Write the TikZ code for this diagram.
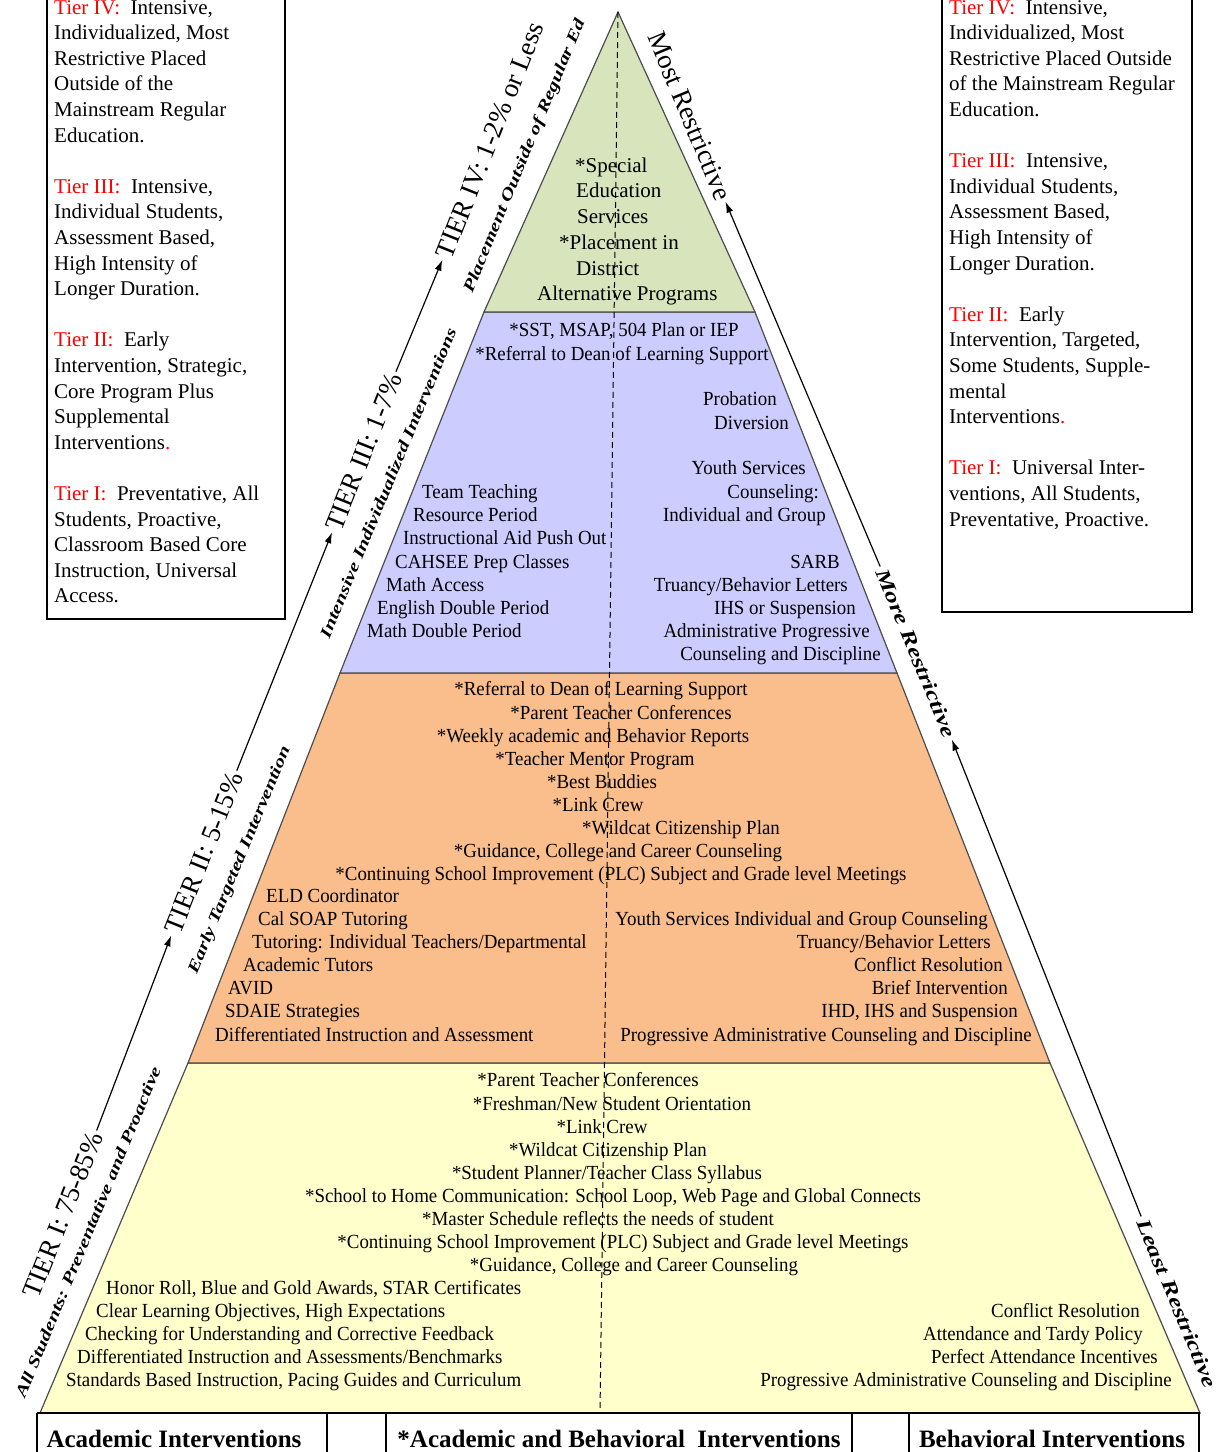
\documentclass[tikz,border=0pt]{standalone}
\usepackage{fontspec}
\setmainfont{Liberation Serif}
\newfontfamily\condfont[FakeStretch=0.945]{Liberation Serif}
\newfontfamily\widefont[FakeStretch=1.33]{Liberation Serif}
\usetikzlibrary{arrows.meta}
\definecolor{tiergreen}{RGB}{215,228,188}
\definecolor{tierpurple}{RGB}{204,204,255}
\definecolor{tierorange}{RGB}{250,190,140}
\definecolor{tieryellow}{RGB}{255,255,204}
\newcommand{\tierred}[1]{\textcolor{red}{#1}}

\begin{document}
\begin{tikzpicture}[x=1pt, y=-1pt,
  band/.style={draw=black!70, line width=1.2pt},
  pyr/.style={font=\condfont\fontsize{20}{23}\selectfont, inner sep=0pt},
  plain/.style={font=\fontsize{21}{25.6}\selectfont, inner sep=0pt},
  boxtxt/.style={plain, align=left, anchor=north west},
  aw/.style={anchor=base west}, ae/.style={anchor=base east}, ac/.style={anchor=base},
  tierlab/.style={font=\fontsize{27}{29}\selectfont, rotate=68.3, inner sep=3pt},
  sublab/.style={font=\widefont\bfseries\itshape\fontsize{16}{18}\selectfont, rotate=67.5, inner sep=0pt},
  restlab/.style={font=\fontsize{27}{29}\selectfont, rotate=-67.5, inner sep=3pt},
  restital/.style={font=\widefont\bfseries\itshape\fontsize{20}{22}\selectfont, rotate=-67.5, inner sep=3pt},
  head/.style={font=\bfseries\fontsize{25}{27}\selectfont, inner sep=0pt, anchor=base},
  guide/.style={line width=1.2pt, -{Latex[length=11pt,width=7pt]}},
]
\useasboundingbox (0,0) rectangle (1220,1452);

% pyramid bands
\filldraw[band, fill=tieryellow] (188,1063) -- (1050,1063) -- (1200,1413) -- (40,1413) -- cycle;
\filldraw[band, fill=tierorange] (340,673) -- (897,673) -- (1050,1063) -- (188,1063) -- cycle;
\filldraw[band, fill=tierpurple] (484,312) -- (755,312) -- (897,673) -- (340,673) -- cycle;
\filldraw[band, fill=tiergreen] (618,12) -- (755,312) -- (484,312) -- cycle;
\draw[line width=1pt, dash pattern=on 6pt off 4pt] (618,12) -- (600,1413);

% tier IV
\foreach \x/\y/\t [count=\i] in {575/167/{*Special}, 576/192/Education, 577/218/Services,
    559/244/{*Placement in}, 576/270/District, 537/295/{Alternative Programs}}
  \node[plain, aw] (g\i) at (\x,\y+5) {\t};

% tier III
\foreach \a/\x/\y/\t [count=\i] in {ac/624/331/{*SST, MSAP, 504 Plan or IEP},
    ac/622/355/{*Referral to Dean of Learning Support},
    aw/703/400/Probation, aw/714/424/Diversion,
    ae/806/469/{Youth Services}, ae/819/493/{Counseling:}, ae/826/516/{Individual and Group},
    aw/422/493/{Team Teaching}, aw/413/516/{Resource Period},
    aw/403/539/{Instructional Aid Push Out}, aw/395/563/{CAHSEE Prep Classes},
    aw/386/586/{Math Access}, aw/377/609/{English Double Period}, aw/367/632/{Math Double Period},
    ae/840/563/SARB, ae/848/586/{Truancy/Behavior Letters}, ae/856/609/{IHS or Suspension},
    ae/870/632/{Administrative Progressive}, ae/881/655/{Counseling and Discipline}}
  \node[pyr, \a] (p\i) at (\x,\y+5) {\t};

% tier II
\foreach \a/\x/\y/\t [count=\i] in {ac/601/690/{*Referral to Dean of Learning Support},
    ac/621/714/{*Parent Teacher Conferences}, ac/593/737/{*Weekly academic and Behavior Reports},
    ac/595/760/{*Teacher Mentor Program}, ac/602/783/{*Best Buddies}, ac/598/806/{*Link Crew},
    ac/681/829/{*Wildcat Citizenship Plan}, ac/618/852/{*Guidance, College and Career Counseling},
    ac/621/875/{*Continuing School Improvement (PLC) Subject and Grade level Meetings},
    aw/266/897/{ELD Coordinator}, aw/258/920/{Cal SOAP Tutoring},
    aw/252/943/{Tutoring: Individual Teachers/Departmental}, aw/243/966/{Academic Tutors},
    aw/228/989/AVID, aw/225/1012/{SDAIE Strategies},
    aw/215/1036/{Differentiated Instruction and Assessment},
    ae/988/920/{Youth Services Individual and Group Counseling},
    ae/991/943/{Truancy/Behavior Letters}, ae/1003/966/{Conflict Resolution},
    ae/1008/989/{Brief Intervention}, ae/1018/1012/{IHD, IHS and Suspension},
    ae/1032/1036/{Progressive Administrative Counseling and Discipline}}
  \node[pyr, \a] (o\i) at (\x,\y+5) {\t};

% tier I
\foreach \a/\x/\y/\t [count=\i] in {ac/588/1081/{*Parent Teacher Conferences},
    ac/612/1105/{*Freshman/New Student Orientation}, ac/602/1128/{*Link Crew},
    ac/608/1151/{*Wildcat Citizenship Plan}, ac/607/1174/{*Student Planner/Teacher Class Syllabus},
    ac/613/1197/{*School to Home Communication: School Loop, Web Page and Global Connects},
    ac/598/1220/{*Master Schedule reflects the needs of student},
    ac/623/1243/{*Continuing School Improvement (PLC) Subject and Grade level Meetings},
    ac/634/1266/{*Guidance, College and Career Counseling},
    aw/106/1289/{Honor Roll, Blue and Gold Awards, STAR Certificates},
    aw/96/1312/{Clear Learning Objectives, High Expectations},
    aw/85/1335/{Checking for Understanding and Corrective Feedback},
    aw/77/1358/{Differentiated Instruction and Assessments/Benchmarks},
    aw/66/1381/{Standards Based Instruction, Pacing Guides and Curriculum},
    ae/1140/1312/{Conflict Resolution}, ae/1143/1335/{Attendance and Tardy Policy},
    ae/1158/1358/{Perfect Attendance Incentives},
    ae/1172/1381/{Progressive Administrative Counseling and Discipline}}
  \node[pyr, \a] (y\i) at (\x,\y+5) {\t};

% left guide
\node[tierlab] (t1) at (63,1215) {TIER I: 75-85\%};
\node[tierlab] (t2) at (204,853) {TIER II: 5-15\%};
\node[tierlab] (t3) at (364,452) {TIER III: 1-7\%};
\node[tierlab] (t4) at (490,140) {TIER IV: 1-2\% or Less};
\draw[guide] (t1.east) -- (t2.west);
\draw[guide] (t2.east) -- (t3.west);
\draw[guide] (t3.east) -- (t4.west);
\node[sublab] (s1) at (88,1232) {All Students: Preventative and Proactive};
\node[sublab] (s2) at (240,860) {Early Targeted Intervention};
\node[sublab] (s3) at (388,483) {Intensive Individualized Interventions};
\node[sublab] (s4) at (525,156) {Placement Outside of Regular Ed};

% right guide
\node[restlab] (m1) at (690,116) {Most Restrictive};
\node[restital] (m2) at (916,653) {More Restrictive};
\node[restital] (m3) at (1177,1303) {Least Restrictive};
\draw[guide] (m2.west) -- (m1.east);
\draw[guide] (m3.west) -- (m2.east);

% side boxes
\draw[line width=1.2pt] (47,-10) rectangle (285,619);
\node[boxtxt] (lbox) at (54,0) {\tierred{Tier IV:}~ Intensive,\\ Individualized, Most\\ Restrictive Placed\\
  Outside of the\\ Mainstream Regular\\ Education.\\[25.6pt]
  \tierred{Tier III:}~ Intensive,\\ Individual Students,\\ Assessment Based,\\ High Intensity of\\
  Longer Duration.\\[25.6pt]
  \tierred{Tier II:}~ Early\\ Intervention, Strategic,\\ Core Program Plus\\ Supplemental\\
  Interventions\tierred{.}\\[25.6pt]
  \tierred{Tier I:}~ Preventative, All\\ Students, Proactive,\\ Classroom Based Core\\
  Instruction, Universal\\ Access.};
\draw[line width=1.2pt] (942,-10) rectangle (1192,612);
\node[boxtxt] (rbox) at (949,0) {\tierred{Tier IV:}~ Intensive,\\ Individualized, Most\\
  Restrictive Placed Outside\\ of the Mainstream Regular\\ Education.\\[25.6pt]
  \tierred{Tier III:}~ Intensive,\\ Individual Students,\\ Assessment Based,\\ High Intensity of\\
  Longer Duration.\\[25.6pt]
  \tierred{Tier II:}~ Early\\ Intervention, Targeted,\\ Some Students, Supple-\\ mental\\
  Interventions\tierred{.}\\[25.6pt]
  \tierred{Tier I:}~ Universal Inter-\\ ventions, All Students,\\ Preventative, Proactive.};

% bottom table
\draw[line width=1.2pt] (37,1413) -- (1200,1413);
\foreach \x in {37,327,386,852,909,1199}
  \draw[line width=1.2pt] (\x,1413) -- (\x,1460);
\node[head] (hacad) at (174,1447) {Academic Interventions};
\node[head] (hboth) at (619,1447) {*Academic and Behavioral\ \ Interventions};
\node[head] (hbeh) at (1052,1447) {Behavioral Interventions};
\end{tikzpicture}
\end{document}
